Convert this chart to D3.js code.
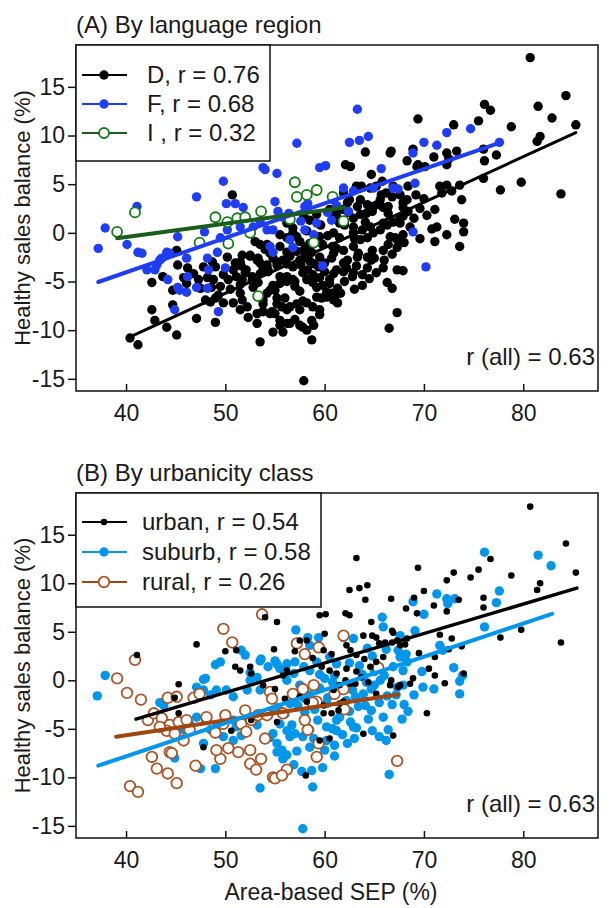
<!DOCTYPE html>
<html>
<head>
<meta charset="utf-8">
<script src="https://cdn.jsdelivr.net/npm/d3@7"></script>
<style>
  body { margin: 0; background: #fff; }
  text { font-family: "Liberation Sans", Arial, sans-serif; fill: #1a1a1a; }
</style>
</head>
<body>
<div class="chart"></div>
<script>
// ---- data ----
const xTicks = [40, 50, 60, 70, 80];
const yTicks = [-15, -10, -5, 0, 5, 10, 15];

// (A) language region: [SEP %, healthy sales balance %]
const langD = [
  [40.4,-10.8],[41.2,-11.5],[42.6,-7.9],[42.9,-9.0],[44.1,-9.7],[45.1,-10.5],[44.7,-7.4],
  [42.6,-5.1],[43.7,-4.5],[44.7,-5.9],[45.1,-1.8],[45.2,-3.3],[46.2,-3.6],[46.1,-5.2],
  [47.3,-4.8],[47.5,-5.7],[48.2,-4.6],[48.8,-4.8],[48.7,-3.0],[49.0,-3.5],[49.8,-4.3],
  [50.3,-4.8],[50.8,-3.8],[51.0,-3.1],[49.3,-6.4],[49.0,-6.7],[48.5,-7.1],[48.0,-6.9],
  [49.8,-7.2],[47.1,-8.8],[49.0,-9.2],[50.7,3.9],
  [51.5,-3.0],[51.7,-2.3],[52.0,-4.1],[51.7,-4.8],[52.5,-2.3],[53.3,-2.6],[53.5,-3.1],
  [53.8,-3.6],[54.2,-3.3],[53.0,-0.9],[53.5,-1.2],[54.2,-1.2],[52.7,-4.5],[53.3,-5.1],
  [52.8,-5.6],[51.5,-6.2],[51.7,-6.9],[52.2,-7.6],[52.3,-8.7],[51.5,-7.9],[50.8,-7.2],
  [53.2,-9.3],[53.5,-11.2],[53.8,-8.1],[54.7,-8.1],[54.8,-10.2],[55.8,-10.2],[55.5,-9.0],
  [56.2,-9.3],[54.2,-6.2],[55.0,-5.9],[55.5,-5.2],[56.2,-4.5],[56.8,-4.8],[55.2,-6.7],
  [56.0,-6.7],[55.7,-7.6],[56.5,-7.6],[57.5,-9.5],[58.2,-10.0],[58.7,-11.0],[57.5,-7.9],
  [58.2,-7.2],[58.8,-7.6],[59.7,-6.7],[60.2,-6.1],[59.8,-5.4],[59.2,-5.6],[58.8,-5.1],
  [56.8,-3.5],[57.8,-4.1],[58.3,-3.8],[58.8,-4.3],[55.5,-0.2],[56.2,-0.5],[56.8,0.0],
  [57.5,-0.9],[58.2,-1.4],[58.7,-2.0],[59.5,-2.5],[60.8,-1.4],[60.7,-2.6],[61.2,-3.8],
  [60.5,-4.8],[56.2,1.0],[56.8,0.5],[54.0,-1.7],[54.5,-2.1],[55.5,-1.4],[56.2,-2.0],
  [57.2,-1.9],[57.9,-2.6],[55.2,-3.3],[55.8,-2.8],[54.3,-4.0],[55.5,-4.5],[57.0,-5.5],
  [57.5,-6.0],[54.5,-5.9],[53.8,-6.9],[57.2,-7.3],[54.5,-8.3],[56.5,-9.3],[59.5,-7.9],
  [61.0,-6.7],
  [52.5,-2.4],[53.2,-2.8],[51.6,-3.4],[52.1,-3.8],[51.1,-4.5],[51.5,-5.3],[52.7,-4.9],
  [53.5,-4.2],[54.3,-3.8],[55.2,-3.0],[56.5,-2.4],[57.9,-1.8],[56.2,-5.0],[57.0,-5.0],
  [54.8,-5.4],[53.8,-7.3],[55.2,-7.3],[56.2,-7.9],[57.8,-7.0],[59.2,-6.6],[60.2,-6.6],
  [53.2,-8.3],[55.0,-8.3],[55.5,-9.5],[57.0,-8.9],[58.7,-9.0],[59.5,-8.4],[61.3,-7.2],
  [59.2,1.9],[60.5,2.4],[61.2,1.7],[57.9,1.7],[58.5,1.3],[59.8,-1.2],[60.3,-0.3],
  [61.5,-0.5],[62.0,0.8],[63.0,-0.6],[61.0,2.0],[59.6,0.8],[58.2,0.2],[57.2,-0.4],
  [46.8,-4.2],[47.8,-3.5],[45.8,-4.6],[49.5,-5.5],[50.5,-5.8],[50.2,-2.5],[48.6,-5.6],
  [58.5,-2.9],[59.0,-3.2],[60.0,-4.0],[59.5,-4.6],[57.6,-3.3],[56.2,-3.2],[54.8,-2.6],
  [62.0,-5.0],[63.0,-5.8],[64.5,-4.7],[65.2,-4.1],[65.0,-2.6],[63.2,-3.4],[62.2,-3.6],
  [66.0,-2.8],[66.8,-2.2],[68.0,-1.0],[68.6,0.6],[69.0,1.5],[69.6,2.5],[70.0,3.5],
  [69.2,3.9],[70.3,1.8],[69.6,-0.6],
  [62.1,7.0],[62.6,6.8],[64.7,6.0],[66.6,8.2],[68.3,7.4],[69.4,7.0],[70.1,6.8],[63.7,4.8],
  [65.8,5.3],[66.8,3.7],[67.6,3.9],[68.3,3.4],[65.6,3.4],[65.3,2.9],[65.9,2.6],[66.4,2.7],
  [63.6,3.4],[63.3,2.7],[64.3,2.9],[64.8,2.2],[62.3,3.1],[61.8,2.4],[62.4,2.1],[62.9,1.5],
  [63.6,1.9],[64.1,1.1],[64.6,0.6],[63.8,0.3],[62.9,0.0],[63.6,-0.7],[64.3,-0.5],[64.9,0.0],
  [65.6,0.3],[66.3,0.8],[66.9,1.1],[67.6,1.6],[68.4,2.2],[67.9,2.6],[67.1,-0.5],[66.4,-1.2],
  [67.3,-1.5],[65.9,-1.8],[64.8,-1.8],[64.3,-2.5],[63.3,-2.5],[62.3,-2.8],[62.9,-1.4],
  [61.9,-1.8],[64.3,-3.6],[63.8,-4.3],[62.9,-4.1],[65.9,-3.6],[67.3,-3.8],[63.8,-5.4],
  [66.3,-5.1],[66.8,-5.7],[62.8,-4.5],[61.9,-4.0],[67.3,-8.2],[66.5,-9.8],[61.3,-5.7],
  [61.6,-6.2],[60.7,-6.2],[60.9,-6.9],[57.9,-15.2],[57.8,-9.7],[58.9,-9.5],[60.5,-5.2],
  [60.9,-4.2],[61.9,-3.1],[63.4,-2.1],[61.2,-1.6],[60.9,-2.1],[60.0,-3.1],[59.4,-3.5],
  [58.2,-4.8],[64.7,-2.8],[66.4,2.0],[67.6,1.0],[67.9,1.7],[65.9,1.0],[66.6,-0.4],
  [67.3,-0.7],[67.9,-0.2],[62.9,0.6],[64.2,2.0],[64.9,2.7],[66.2,4.1],[66.9,4.8],[65.2,4.8],
  [61.5,1.0],[60.9,0.0],[59.5,-0.4],[58.5,-1.1],[57.9,-1.8],[57.5,-2.8],[60.9,3.4],
  [61.9,4.1],[63.2,4.8],[62.5,3.4],[67.9,-3.9],
  [80.7,18.0],[84.3,14.1],[81.5,13.0],[82.9,11.8],[85.3,11.1],[81.7,9.9],[81.4,9.4],
  [78.8,10.9],[76.1,13.2],[76.7,12.6],[75.5,11.5],[73.0,11.1],[77.3,8.0],[76.0,8.6],
  [76.1,7.4],[69.4,11.7],[64.1,8.3],[66.7,8.4],[68.9,8.6],[71.0,7.8],[72.3,8.2],[72.5,7.6],
  [73.3,8.4],[72.3,7.0],[69.3,6.8],[64.6,4.6],[65.7,3.9],[67.9,3.1],[68.4,4.8],[71.6,4.8],
  [72.3,4.9],[71.8,4.1],[72.8,4.3],[73.8,3.4],[76.0,5.6],[77.7,4.4],[79.8,5.2],[83.8,4.0],
  [73.6,4.9],[71.1,2.4],[70.8,0.4],[71.3,0.6],[71.1,-0.9],[72.3,-0.2],[73.1,1.4],[74.0,1.0],
  [74.0,0.1],[73.6,-1.4]
];
const langF = [
  [37.2,-1.6],[37.9,0.5],[40.1,-1.2],[41.1,2.7],[41.2,-2.0],[41.6,-2.1],[42.1,-3.8],[42.9,-3.8],
  [43.1,-3.3],[43.4,-2.8],[43.6,-2.6],[44.1,-2.0],[44.4,-2.1],[44.2,-4.8],[44.9,-7.9],[45.2,-5.6],
  [45.2,-0.4],[46.1,-6.1],[46.1,-2.6],[46.2,-4.5],[47.1,3.7],[47.1,-5.6],[47.9,0.1],[48.2,-5.7],
  [48.2,-2.6],[48.3,-3.8],[49.2,-2.0],[49.3,-8.1],[49.8,5.3],[50.0,-3.6],[50.1,3.0],[50.2,0.3],
  [51.0,3.0],[51.5,0.6],[51.8,2.6],[52.8,0.6],[53.5,1.2],[57.2,9.2],[53.8,6.7],[54.0,6.5],
  [54.2,0.3],[54.5,-1.4],[54.8,0.3],[54.8,-2.0],[55.0,3.2],[55.2,6.1],[55.3,2.2],[55.8,1.6],
  [56.4,2.0],[56.5,-0.7],[56.8,-1.5],[57.6,1.2],[58.0,2.7],[58.0,0.3],[58.3,3.0],[58.9,-0.2],
  [59.2,1.0],[59.5,6.7],[59.8,-3.4],[60.1,6.9],[60.3,2.1],[60.7,1.3],[61.2,2.8],[61.9,4.6],
  [62.4,2.2],[62.5,9.3],[62.9,4.3],[63.3,12.7],[63.5,9.5],[64.4,9.9],[64.9,4.6],[65.7,6.6],
  [66.9,4.6],[67.4,4.5],[68.9,8.2],[68.9,0.1],[69.1,5.1],[70.0,9.3],[70.2,-3.5],[71.3,9.0],
  [72.3,10.3],[74.7,10.7],[77.6,9.3],[49.5,-0.5],[45.4,-5.9]
];
const langI = [
  [39.1,0.1],[40.9,2.1],[47.4,-1.0],[49.0,1.6],[50.2,1.1],[50.3,-1.1],[51.2,1.5],[52.0,1.6],
  [52.5,0.0],[53.6,2.2],[53.3,-6.5],[56.5,1.4],[57.0,5.2],[57.2,3.7],[58.2,3.9],[58.9,-1.0],
  [59.2,4.4],[60.8,3.7],[61.9,1.2]
];

// (B) urbanicity class
const urbUrban = [
  [80.7,17.9],[84.3,14.1],[76.7,12.5],[85.3,11.1],[78.8,10.8],[75.5,11.4],[73.0,11.1],[74.7,10.6],
  [72.3,10.3],[81.7,10.0],[81.4,9.3],[76.0,8.5],[76.0,7.5],[69.4,11.6],[63.2,12.6],[62.5,9.3],
  [63.5,9.5],[64.3,9.8],[64.1,8.3],[66.7,8.4],[70.0,9.2],[69.0,8.5],[68.2,7.4],[73.5,8.3],
  [69.3,6.9],[72.3,7.1],[71.0,7.7],[59.5,6.7],[60.1,6.8],[62.1,6.9],[62.5,6.7],[64.7,6.0],
  [63.9,4.6],[64.8,4.6],[66.9,4.9],[66.8,3.9],[67.6,3.6],[68.1,3.7],[65.5,3.8],[77.7,4.4],
  [79.8,5.2],[83.8,3.9],[71.6,4.7],[72.8,4.3],[73.8,3.5],[71.1,2.4],[72.5,3.2],[74.0,0.7],
  [54.0,6.5],[55.2,6.0],[47.1,3.7],[50.0,3.0],[51.1,3.1],[57.5,4.1],[58.2,4.1],[54.9,3.2],
  [41.1,2.6],[45.3,-0.4],[51.0,1.4],[51.5,1.0],[44.9,-1.8],[45.3,-3.4],[47.8,-6.9],[50.6,-5.2],
  [52.6,-4.1],[55.2,-4.3],[58.1,-9.8],[59.5,-6.2],[60.5,-6.0],[59.9,-3.4],[61.4,-3.1],[52.5,1.4],
  [52.6,0.7],[53.8,-0.5],[56.2,1.0],[58.2,-2.2],[65.2,4.4],[66.1,3.9],[66.8,5.1],[67.3,4.1],
  [68.3,4.3],[59.9,3.1],[60.7,2.7],[62.2,3.6],[62.6,3.1],[63.2,2.6],[64.0,2.2],[64.6,1.4],
  [65.2,1.9],[65.9,2.4],[59.7,1.4],[60.5,1.0],[61.2,0.7],[62.2,1.2],[63.2,0.9],[63.7,0.3],
  [64.4,-0.2],[62.6,-0.35],[55.8,0.5],[55.0,-0.9],[56.0,-1.9],[57.5,-1.7],[59.9,-2.6],[60.7,-3.4],
  [61.5,-2.4],[66.6,-0.5],[67.4,-0.7],[68.9,0.2],[68.6,-0.35],[70.3,-3.4],[63.9,-5.5],[66.9,-5.7],
  [72.1,-0.3],[71.1,0.5],[66.7,0.0],[67.6,-0.5],[65.2,-1.4],[63.1,-0.35],[62.1,0.0],[61.5,-0.5],
  [60.9,-1.0],[61.9,-2.2],[58.8,2.3],[57.0,3.0],[60.0,4.8],[69.5,2.8],[70.5,1.2]
];
const urbSuburb = [
  [76.1,13.2],[81.5,12.9],[82.8,11.8],[77.6,9.2],[77.3,8.0],[71.3,8.9],[68.9,8.1],[72.3,8.4],
  [72.4,7.9],[73.1,8.4],[70.0,6.8],[65.8,6.5],[65.9,5.5],[76.1,5.5],[62.9,4.3],[61.9,4.4],
  [67.6,4.6],[69.1,5.1],[71.6,3.6],[71.9,3.1],[73.0,1.3],[68.2,2.7],[67.6,2.4],[68.3,1.9],
  [57.1,5.2],[58.3,4.4],[59.4,4.4],[58.5,3.6],[51.6,3.1],[52.0,2.6],[53.6,2.2],[54.3,1.4],
  [55.2,1.7],[37.9,0.5],[47.8,0.1],[49.0,1.6],[49.5,1.9],[52.5,0.8],[37.1,-1.6],[44.9,-8.0],
  [53.5,-11.1],[58.8,-11.0],[57.8,-15.3],[49.0,-9.1],[66.5,-9.7],[48.0,0.2],[53.5,2.0],[55.0,2.0],
  [55.5,1.2],[56.2,1.7],[57.0,1.9],[57.9,1.4],[58.5,1.0],[56.9,0.7],[56.2,0.0],[65.9,-3.8],
  [67.8,-4.0],[62.6,-4.3],[64.4,-4.0],[53.2,-4.6],[54.8,-5.5],[55.2,-6.5],[56.5,-5.8],[55.7,-7.2],
  [55.8,-8.1],[56.9,-8.7],[57.7,-9.4],[58.5,-6.9],[59.2,-7.9],[60.0,-7.2],[58.5,-5.1],[58.9,-6.0],
  [47.5,-9.1],[50.1,-3.8],[50.8,-4.1],[51.1,-4.8],[51.6,-5.7],[50.8,-6.2],[49.8,-5.8],[48.5,-5.1],
  [49.1,-4.8],[48.0,-4.1],[47.1,-3.8],[46.4,-4.5],[45.8,-5.1],[44.8,-5.5],[49.1,-1.0],[50.1,-1.0],
  [50.8,-1.7],[48.5,-1.5],[47.8,-1.0],[47.1,-0.7],[52.5,0.0],[53.2,0.3],[52.2,-1.0],[53.5,-1.0],
  [43.4,-2.3],[43.8,-2.6],[47.8,-6.5],[73.9,0.5],[73.6,-0.1],[73.6,-1.4],[71.0,-0.9],[62.9,-4.8],
  [61.2,-4.1],[60.2,-4.8],[66.4,-5.1],[66.2,-6.2],[67.3,-0.7],[67.9,-0.5],[64.2,-0.2],[64.7,-0.9],
  [63.9,-1.4],[63.1,-1.7],[62.2,-2.1],[64.1,-2.6],[63.4,-2.7],[64.7,-3.1],[57.5,-0.5],[58.5,-1.5],
  [59.5,-0.8],[60.3,-1.8],[61.0,0.5],[60.0,0.2],[61.8,-0.9],[62.5,1.8],[64.3,3.3],[65.0,0.9],
  [66.0,0.5],[65.5,-2.3],[66.3,-1.6],[59.0,-3.0],[58.0,-3.3],[57.3,-2.6],[56.0,-3.5],[55.3,-2.8],
  [54.5,-3.3],[56.7,-4.6],[57.8,-5.8],[60.8,-5.0],[61.8,-5.6],[62.3,-6.5],[63.0,-6.0],[61.0,-7.8],
  [59.8,-9.0],[67.4,3.1],[66.9,1.4],[65.6,0.0],[67.9,1.0],[69.8,0.9],[69.9,-0.7],
  [56.5,-2.4],[57.9,-1.8],[55.5,-4.5],[56.2,-5.2],[57.0,-5.5],[54.5,-5.9],[55.2,-7.4],[56.2,-7.7],
  [57.2,-7.3],[60.2,-6.2],[58.7,-9.3],[61.0,-6.7],[59.2,1.9],[60.5,2.4],[61.2,1.7],[63.5,1.5],
  [64.8,2.5],[66.2,3.2],[65.0,-0.5],[66.8,-2.5],[67.2,-1.5],[68.0,-2.5],[69.0,-1.5],[68.4,-3.2],
  [62.5,-3.2],[61.5,-3.8],[63.2,-4.9],[64.8,-5.2],[65.5,-5.8],[61.2,-5.2],[60.2,-2.4],[59.3,-4.1],
  [63.8,0.6],[62.8,-1.0],[60.8,-0.2],[59.5,0.6]
];
const urbRural = [
  [53.7,6.8],[49.8,5.3],[50.7,3.9],[57.2,3.8],[58.0,2.7],[59.4,3.4],[40.9,2.1],[39.1,0.2],
  [61.9,4.6],[40.1,-1.3],[41.5,-2.0],[44.2,-1.8],[45.1,-1.7],[46.8,-1.8],[47.4,-1.4],[42.2,-4.1],
  [42.8,-3.4],[43.6,-3.9],[44.4,-4.6],[45.3,-4.3],[46.1,-4.1],[46.4,-5.1],[45.8,-6.2],[44.1,-5.2],
  [43.4,-4.8],[44.9,-5.5],[42.6,-7.9],[43.1,-9.1],[44.4,-7.4],[44.2,-9.6],[45.1,-10.6],[47.0,-8.8],
  [40.4,-10.9],[41.2,-11.5],[48.1,-3.8],[49.0,-5.4],[49.5,-8.1],[49.1,-7.2],[49.8,-4.5],[50.0,-3.6],
  [50.3,-7.0],[51.6,-4.5],[52.0,-3.1],[52.1,-5.3],[52.5,-7.2],[52.5,-8.6],[52.6,-4.1],[53.1,-9.2],
  [53.6,-8.1],[54.8,-10.0],[56.2,-9.2],[56.8,-1.4],[57.8,-0.9],[58.9,-0.5],[59.2,-7.9],[58.3,-5.1],
  [58.0,-4.1],[59.2,-2.2],[54.5,-1.2],[44.6,-7.5],[51.3,-7.4],[55.0,-10.1],[55.7,-9.8],[53.3,-3.6],
  [54.0,-6.0],[54.2,-3.6],[54.7,-1.9],[55.8,-3.4],[59.4,-6.5],[61.0,-1.4],[61.9,-0.9],[62.0,-3.0],
  [67.3,-8.3],[58.8,-2.3],[65.4,1.3]
];

// regression lines: [[x0, y0], [x1, y1]]
const fitD = [[40.4,-10.7],[85.3,10.3]];
const fitF = [[37.2,-5.05],[77.6,9.25]];
const fitI = [[39.1,-0.55],[62.0,2.6]];
const fitUrban = [[41.0,-4.0],[85.4,9.5]];
const fitSuburb = [[37.2,-8.8],[82.9,6.85]];
const fitRural = [[39.0,-5.82],[67.4,-1.47]];

const legendA = ["D, r = 0.76", "F, r = 0.68", "I , r = 0.32"];
const legendB = ["urban, r = 0.54", "suburb, r = 0.58", "rural, r = 0.26"];

// ---- layout ----
const width = 611, height = 908;
const plotLeft = 76, plotRight = 598;

const svg = d3.select(".chart").append("svg")
    .attr("width", width)
    .attr("height", height);

const scaleX = d3.scaleLinear().domain([34.96, 87.53]).range([plotLeft, plotRight]);

const draw_panel = (p) => {
    const scaleY = d3.scaleLinear().domain([-16.25, 19.3]).range([p.bottom, p.top]);
    const g = svg.append("g");

    // points
    p.drawOrder.forEach((k) => {
        const grp = p.groups[k];
        g.append("g").selectAll("circle")
            .data(grp.points)
            .enter().append("circle")
            .attr("cx", (d) => scaleX(d[0]))
            .attr("cy", (d) => scaleY(d[1]))
            .attr("r", grp.r)
            .attr("fill", grp.open ? "#fff" : grp.color)
            .attr("stroke", grp.open ? grp.color : "none")
            .attr("stroke-width", grp.open ? 1.8 : 0);
    });

    // fitted lines
    const lineFunc = d3.line().x((d) => scaleX(d[0])).y((d) => scaleY(d[1]));
    p.lineOrder.forEach((k) => {
        const grp = p.groups[k];
        g.append("path")
            .attr("d", lineFunc(grp.fit))
            .attr("stroke", grp.lineColor)
            .attr("stroke-width", grp.lw)
            .attr("stroke-linecap", "round")
            .attr("fill", "none");
    });

    // frame
    g.append("rect")
        .attr("x", plotLeft).attr("y", p.top)
        .attr("width", plotRight - plotLeft).attr("height", p.bottom - p.top)
        .attr("fill", "none").attr("stroke", "#111").attr("stroke-width", 1.5);

    // axes (plain hyphen minus like the original)
    const yAxis = g.append("g")
        .attr("transform", "translate(" + plotLeft + ",0)")
        .call(d3.axisLeft(scaleY).tickValues(yTicks).tickSize(8).tickPadding(3)
            .tickSizeOuter(0).tickFormat((d) => String(d)));
    const xAxis = g.append("g")
        .attr("transform", "translate(0," + p.bottom + ")")
        .call(d3.axisBottom(scaleX).tickValues(xTicks).tickSize(-7).tickPadding(14)
            .tickSizeOuter(0).tickFormat((d) => String(d)));
    [xAxis, yAxis].forEach((ax) => {
        ax.attr("font-size", 23).attr("font-family", null).attr("color", "#111");
        ax.select(".domain").remove();
        ax.selectAll("line").attr("stroke-width", 1.5);
    });

    // y title
    g.append("text")
        .attr("transform", "translate(30," + (p.top + p.bottom) / 2 + ") rotate(-90)")
        .attr("text-anchor", "middle")
        .attr("font-size", 22)
        .text("Healthy sales balance (%)");

    // panel title
    g.append("text")
        .attr("x", plotLeft).attr("y", p.top - 12)
        .attr("font-size", 24)
        .text(p.title);

    // r (all)
    g.append("text")
        .attr("x", 595).attr("y", p.bottom - 26)
        .attr("text-anchor", "end")
        .attr("font-size", 24)
        .text("r (all) = 0.63");

    // legend
    const lg = g.append("g");
    lg.append("rect")
        .attr("x", plotLeft).attr("y", p.top)
        .attr("width", p.legendW).attr("height", p.legendH)
        .attr("fill", "#fff").attr("stroke", "#111").attr("stroke-width", 1.5);
    p.legendOrder.forEach((k, i) => {
        const grp = p.groups[k];
        const ly = p.top + p.legendRow0 + i * p.legendStep;
        lg.append("line")
            .attr("x1", 82).attr("x2", 127).attr("y1", ly).attr("y2", ly)
            .attr("stroke", grp.lineColor).attr("stroke-width", 2);
        lg.append("circle")
            .attr("cx", 104).attr("cy", ly).attr("r", grp.r)
            .attr("fill", grp.open ? "#fff" : grp.color)
            .attr("stroke", grp.open ? grp.color : "none")
            .attr("stroke-width", grp.open ? 1.8 : 0);
        lg.append("text")
            .attr("x", p.legendTextX).attr("y", ly + 8)
            .attr("font-size", 24)
            .text(p.labels[i]);
    });
};

draw_panel({
    top: 45, bottom: 391,
    title: "(A) By language region",
    groups: {
        D: { points: langD, color: "#000", lineColor: "#000", r: 4.7, open: false, fit: fitD, lw: 3 },
        F: { points: langF, color: "#1f3df5", lineColor: "#1f3df5", r: 4.7, open: false, fit: fitF, lw: 4 },
        I: { points: langI, color: "#127a12", lineColor: "#1b5e1b", r: 5, open: true, fit: fitI, lw: 4 }
    },
    drawOrder: ["D", "F", "I"],
    lineOrder: ["D", "F", "I"],
    legendOrder: ["D", "F", "I"],
    labels: legendA,
    legendW: 194, legendH: 116, legendRow0: 30, legendStep: 29, legendTextX: 147
});

draw_panel({
    top: 493, bottom: 838,
    title: "(B) By urbanicity class",
    groups: {
        U: { points: urbUrban, color: "#000", lineColor: "#000", r: 3.3, open: false, fit: fitUrban, lw: 3.5 },
        S: { points: urbSuburb, color: "#0096eb", lineColor: "#0096eb", r: 4.7, open: false, fit: fitSuburb, lw: 4 },
        R: { points: urbRural, color: "#aa5528", lineColor: "#a0460f", r: 5.3, open: true, fit: fitRural, lw: 4 }
    },
    drawOrder: ["S", "R", "U"],
    lineOrder: ["R", "S", "U"],
    legendOrder: ["U", "S", "R"],
    labels: legendB,
    legendW: 245, legendH: 114, legendRow0: 29, legendStep: 30, legendTextX: 142
});

// shared x title
svg.append("text")
    .attr("x", 331).attr("y", 900)
    .attr("text-anchor", "middle")
    .attr("font-size", 23)
    .text("Area-based SEP (%)");
</script>
</body>
</html>
